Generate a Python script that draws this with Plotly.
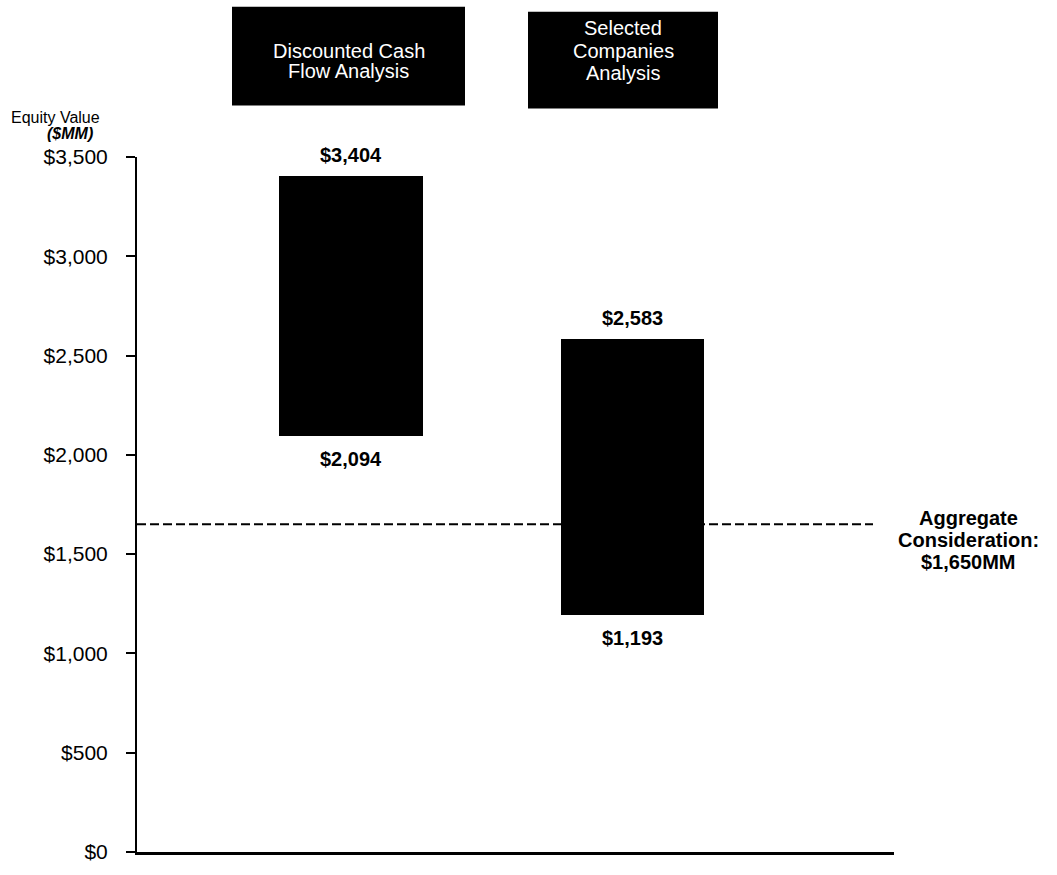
import plotly.graph_objects as go

# Valuation ranges ($MM)
categories = ["Discounted Cash Flow Analysis", "Selected Companies Analysis"]
header_lines = [["Discounted Cash", "Flow Analysis"], ["Selected", "Companies", "Analysis"]]
low_values = [2094, 1193]
high_values = [3404, 2583]
aggregate_consideration = 1650
aggregate_lines = ["Aggregate", "Consideration:", "$1,650MM"]
y_tick_values = [0, 500, 1000, 1500, 2000, 2500, 3000, 3500]
y_tick_labels = ["$0", "$500", "$1,000", "$1,500", "$2,000", "$2,500", "$3,000", "$3,500"]

W, H = 1057, 875
PLOT_L, PLOT_R, PLOT_T, PLOT_B = 137, 894, 157, 860
FONT = "Liberation Sans, Arial, sans-serif"


def px_x(px):
    return (px - PLOT_L) / (PLOT_R - PLOT_L)


def px_y(py):
    return (PLOT_B - py) / (PLOT_B - PLOT_T)


def money(v):
    return "${:,.0f}".format(v)


fig = go.Figure()

fig.add_trace(go.Bar(
    x=categories,
    base=low_values,
    y=[h - l for h, l in zip(high_values, low_values)],
    width=0.51,
    marker=dict(color="black", line=dict(width=0)),
    hoverinfo="skip",
    showlegend=False,
))

annotations = []
# value labels above and below each range bar
for cat, lo, hi in zip(categories, low_values, high_values):
    annotations.append(dict(x=cat, y=hi, text="<b>" + money(hi) + "</b>", showarrow=False,
                            yanchor="bottom", yshift=8,
                            font=dict(family=FONT, size=20, color="black")))
    annotations.append(dict(x=cat, y=lo, text="<b>" + money(lo) + "</b>", showarrow=False,
                            yanchor="top", yshift=-10,
                            font=dict(family=FONT, size=20, color="black")))

# header boxes
shapes = []
box_px = [(232, 465, 5, 105), (528, 718, 10, 108)]
line_y_px = [[50, 70], [27, 50, 72]]
for (x0, x1, y0, y1), lines, ys in zip(box_px, header_lines, line_y_px):
    shapes.append(dict(type="rect", xref="paper", yref="paper",
                       x0=px_x(x0), x1=px_x(x1), y0=px_y(y1), y1=px_y(y0),
                       fillcolor="black", line=dict(width=0), layer="above"))
    for txt, ly in zip(lines, ys):
        annotations.append(dict(xref="paper", yref="paper", x=px_x((x0 + x1) / 2), y=px_y(ly),
                                text=txt, showarrow=False, xanchor="center", yanchor="middle",
                                font=dict(family=FONT, size=20, color="white")))

# aggregate consideration reference line
shapes.append(dict(type="line", xref="paper", yref="y",
                   x0=0, x1=px_x(873), y0=aggregate_consideration, y1=aggregate_consideration,
                   line=dict(color="black", width=2, dash="9px,4px")))
for txt, ly in zip(aggregate_lines, [522, 544, 567]):
    annotations.append(dict(xref="paper", yref="paper", x=px_x(968), y=px_y(ly),
                            text="<b>" + txt + "</b>", showarrow=False,
                            xanchor="center", yanchor="middle",
                            font=dict(family=FONT, size=20, color="black")))

# axis title
annotations.append(dict(xref="paper", yref="paper", x=px_x(55), y=px_y(117),
                        text="Equity Value", showarrow=False, xanchor="center", yanchor="middle",
                        font=dict(family=FONT, size=16, color="black")))
annotations.append(dict(xref="paper", yref="paper", x=px_x(70), y=px_y(133),
                        text="<b><i>($MM)</i></b>", showarrow=False, xanchor="center", yanchor="middle",
                        font=dict(family=FONT, size=16, color="black")))

fig.update_layout(
    width=W, height=H,
    margin=dict(l=PLOT_L, r=W - PLOT_R, t=PLOT_T, b=H - PLOT_B, pad=0),
    paper_bgcolor="white", plot_bgcolor="white",
    shapes=shapes, annotations=annotations,
    bargap=0,
)
fig.update_xaxes(type="category", range=[-0.76, 1.93], showline=True, linecolor="black",
                 linewidth=2.5, showticklabels=False, ticks="", showgrid=False, zeroline=False)
fig.update_yaxes(range=[0, 3500], tickvals=y_tick_values, ticktext=y_tick_labels,
                 showline=True, linecolor="black", linewidth=2, ticks="outside", ticklen=9,
                 tickwidth=1.5, tickcolor="black", ticklabelstandoff=14,
                 tickfont=dict(family=FONT, size=21, color="black"),
                 showgrid=False, zeroline=False)

fig.write_html("out.html")
